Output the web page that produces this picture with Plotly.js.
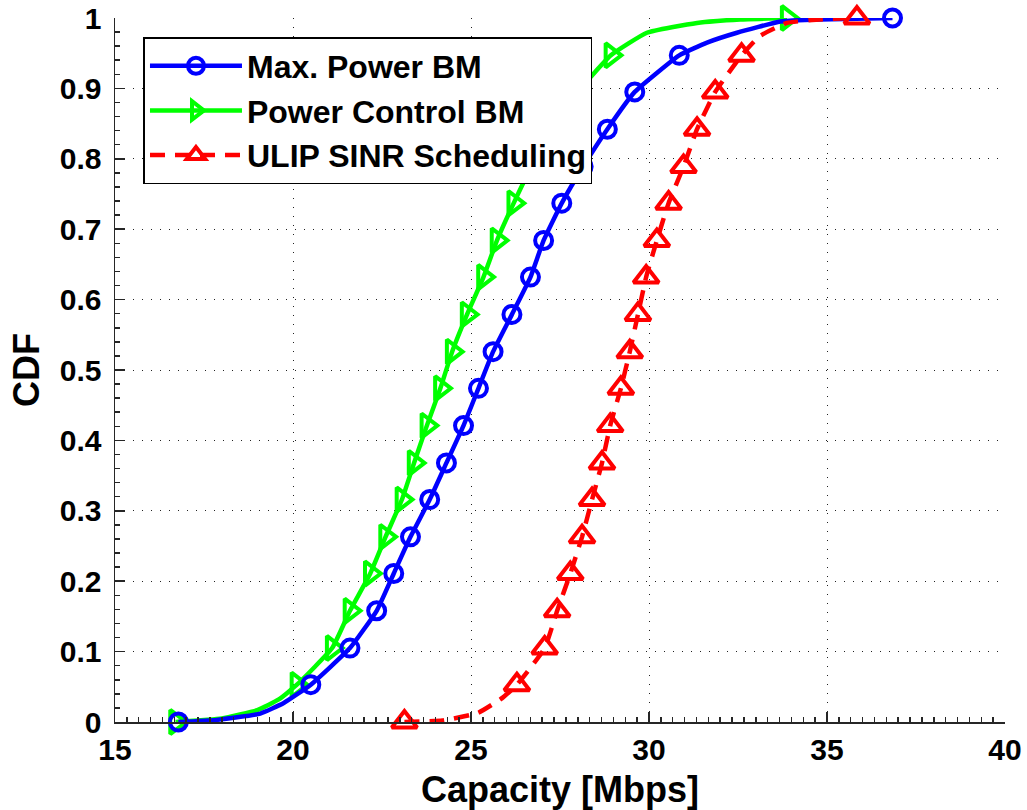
<!DOCTYPE html>
<html>
<head>
<meta charset="utf-8">
<script src="https://cdn.plot.ly/plotly-3.0.1.min.js"></script>
<style>html,body{margin:0;padding:0;background:#fff;}#chart{width:1027px;height:810px;}</style>
</head>
<body>
<div id="chart"></div>
<script>
// Series names
const seriesNames = ["Max. Power BM", "Power Control BM", "ULIP SINR Scheduling"];

// CDF levels at which the markers sit (same for all series)
const markerCdf = [0, 0.053, 0.105, 0.158, 0.211, 0.263, 0.316, 0.368, 0.421, 0.474,
                   0.526, 0.579, 0.632, 0.684, 0.737, 0.789, 0.842, 0.895, 0.947, 1.0];

// Capacity [Mbps] at each marker
const maxPowerX     = [16.78, 20.5, 21.6, 22.35, 22.83, 23.3, 23.84, 24.31, 24.79, 25.21,
                       25.62, 26.15, 26.67, 27.04, 27.55, 28.15, 28.83, 29.6, 30.85, 36.84];
const powerCtrlX    = [16.7, 20.11, 21.1, 21.6, 22.17, 22.6, 23.06, 23.4, 23.76, 24.14,
                       24.47, 24.89, 25.35, 25.73, 26.2, 26.7, 27.3, 28.0, 28.93, 33.88];
const ulipX         = [23.13, 26.29, 27.07, 27.42, 27.79, 28.12, 28.4, 28.68, 28.91, 29.21,
                       29.46, 29.69, 29.92, 30.22, 30.55, 30.97, 31.35, 31.86, 32.6, 35.84];

// Extra curve points (tails) read between markers
const maxPowerTailX  = [17.86, 19.08, 19.74, 31.63, 32.47, 33.69, 34.8];
const maxPowerTailY  = [0.003, 0.012, 0.027, 0.965, 0.979, 0.995, 0.998];
const powerCtrlTailX = [18.0, 19.0, 19.6, 29.94, 31.35, 32.56];
const powerCtrlTailY = [0.005, 0.017, 0.032, 0.979, 0.993, 0.998];
const ulipTailX      = [24.2, 25.2, 25.9, 33.1, 33.87, 34.8];
const ulipTailY      = [0.002, 0.013, 0.035, 0.974, 0.993, 0.998];

// Axis ticks
const xTicks = [15, 20, 25, 30, 35, 40];
const yTicks = [0, 0.1, 0.2, 0.3, 0.4, 0.5, 0.6, 0.7, 0.8, 0.9, 1];

function mergeCurve(mx, my, tx, ty) {
  const pts = mx.map((x, i) => ({x: x, y: my[i]})).concat(tx.map((x, i) => ({x: x, y: ty[i]})));
  pts.sort((a, b) => a.x - b.x);
  return {x: pts.map(p => p.x), y: pts.map(p => p.y)};
}

const styles = [
  {color: '#0000ff', symbol: 'circle-open', size: 17, dash: 'solid'},
  {color: '#00ff00', symbol: 'triangle-right-open', size: 21, dash: 'solid'},
  {color: '#ff0000', symbol: 'triangle-up-open', size: 22, dash: '15px,10px'}
];
const markerXs = [maxPowerX, powerCtrlX, ulipX];
const tails = [[maxPowerTailX, maxPowerTailY], [powerCtrlTailX, powerCtrlTailY], [ulipTailX, ulipTailY]];
const LW = 4.5, MLW = 4;

const traces = [];
// legend-only entries
for (let i = 0; i < 3; i++) {
  const s = styles[i];
  traces.push({
    x: [null], y: [null], type: 'scatter', mode: 'lines+markers', name: seriesNames[i],
    line: {color: s.color, width: LW, dash: s.dash},
    marker: {symbol: s.symbol, size: s.size, color: s.color, line: {color: s.color, width: MLW}},
    showlegend: true, hoverinfo: 'skip'
  });
}
// drawing order: green, blue, red
[1, 0, 2].forEach(i => {
  const s = styles[i];
  const c = mergeCurve(markerXs[i], markerCdf, tails[i][0], tails[i][1]);
  traces.push({
    x: c.x, y: c.y, type: 'scatter', mode: 'lines', showlegend: false,
    line: {color: s.color, width: LW, dash: s.dash, shape: 'spline', smoothing: 0.4},
    hoverinfo: 'skip'
  });
  traces.push({
    x: markerXs[i], y: markerCdf, type: 'scatter', mode: 'markers', showlegend: false, cliponaxis: false,
    marker: {symbol: s.symbol, size: s.size, color: s.color, line: {color: s.color, width: MLW}},
    hoverinfo: 'skip'
  });
});

const fontFam = 'Liberation Sans, Arial, Helvetica, sans-serif';
const layout = {
  width: 1027, height: 810,
  margin: {l: 115, r: 22, t: 18, b: 88, pad: 0},
  paper_bgcolor: '#ffffff', plot_bgcolor: '#ffffff',
  font: {family: fontFam, size: 30, color: '#000', weight: 'bold'},
  showlegend: true,
  legend: {
    x: 0.032, y: 0.973, xanchor: 'left', yanchor: 'top',
    bgcolor: '#ffffff', bordercolor: '#000', borderwidth: 1.5,
    font: {family: fontFam, size: 32, color: '#000', weight: 'bold'},
    itemwidth: 92, tracegroupgap: 0
  },
  xaxis: {
    range: [15, 40], tickvals: xTicks, ticktext: xTicks.map(String),
    showline: true, linecolor: '#262626', linewidth: 1.5, mirror: false,
    ticks: 'inside', ticklen: 10, tickwidth: 1.5, tickcolor: '#262626',
    minor: {dtick: 1/3, ticks: 'inside', ticklen: 5, tickcolor: '#262626', showgrid: false},
    showgrid: true, gridcolor: '#222', gridwidth: 1, griddash: '1px,8px',
    zeroline: false,
    tickfont: {family: fontFam, size: 30, color: '#000', weight: 'bold'},
    title: {text: 'Capacity [Mbps]', font: {family: fontFam, size: 36, color: '#000', weight: 'bold'}, standoff: 12}
  },
  yaxis: {
    range: [0, 1], tickvals: yTicks, ticktext: yTicks.map(String),
    showline: true, linecolor: '#262626', linewidth: 1.5, mirror: false,
    ticks: 'inside', ticklen: 10, tickwidth: 1.5, tickcolor: '#262626',
    minor: {dtick: 0.02, ticks: 'inside', ticklen: 5, tickcolor: '#262626', showgrid: false},
    showgrid: true, gridcolor: '#222', gridwidth: 1, griddash: '1px,8px',
    zeroline: false,
    tickfont: {family: fontFam, size: 30, color: '#000', weight: 'bold'},
    ticklabelstandoff: 6,
    title: {text: 'CDF', font: {family: fontFam, size: 36, color: '#000', weight: 'bold'}, standoff: 9}
  }
};

Plotly.newPlot('chart', traces, layout, {displayModeBar: false, staticPlot: true});
</script>
</body>
</html>
